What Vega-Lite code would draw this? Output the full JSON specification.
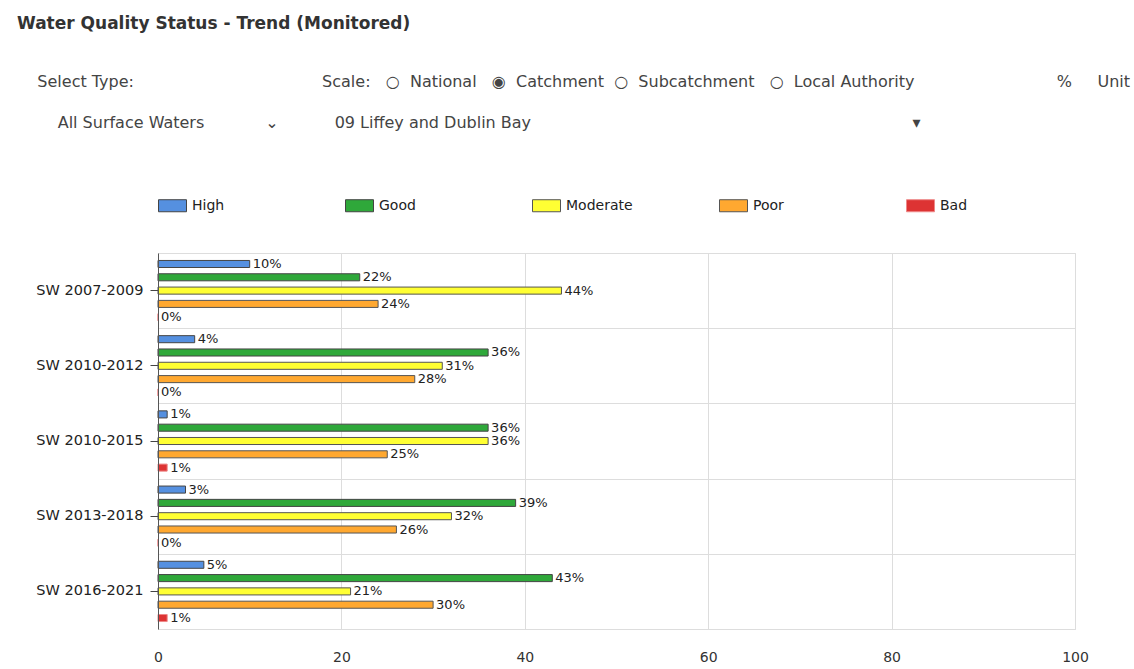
{
  "$schema": "https://vega.github.io/schema/vega-lite/v6.json",
  "autosize": {"type": "none"},
  "width": 917,
  "height": 376,
  "padding": {"left": 158, "top": 253, "right": 59, "bottom": 40},
  "background": "white",
  "title": {
    "text": "Water Quality Status - Trend (Monitored)",
    "subtitle": [
      "\u200b\u00a0\u00a0\u00a0\u00a0Select Type:\u00a0\u00a0\u00a0\u00a0\u00a0\u00a0\u00a0\u00a0\u00a0\u00a0\u00a0\u00a0\u00a0\u00a0\u00a0\u00a0\u00a0\u00a0\u00a0\u00a0\u00a0\u00a0\u00a0\u00a0\u00a0\u00a0\u00a0\u00a0\u00a0\u00a0\u00a0\u00a0\u00a0\u00a0\u00a0\u00a0\u00a0Scale:\u00a0\u00a0\u00a0○\u00a0\u00a0National\u00a0\u00a0\u00a0◉\u00a0\u00a0Catchment\u00a0\u00a0○\u00a0\u00a0Subcatchment\u00a0\u00a0\u00a0○\u00a0\u00a0Local Authority\u00a0\u00a0\u00a0\u00a0\u00a0\u00a0\u00a0\u00a0\u00a0\u00a0\u00a0\u00a0\u00a0\u00a0\u00a0\u00a0\u00a0\u00a0\u00a0\u00a0\u00a0\u00a0\u00a0\u00a0\u00a0\u00a0\u00a0\u00a0%\u00a0\u00a0\u00a0\u00a0\u00a0Unit",
      "\u200b\u00a0\u00a0\u00a0\u00a0\u00a0\u00a0\u00a0\u00a0All Surface Waters\u00a0\u00a0\u00a0\u00a0\u00a0\u00a0\u00a0\u00a0\u00a0\u00a0\u00a0\u00a0⌄\u00a0\u00a0\u00a0\u00a0\u00a0\u00a0\u00a0\u00a0\u00a0\u00a0\u00a009 Liffey and Dublin Bay\u00a0\u00a0\u00a0\u00a0\u00a0\u00a0\u00a0\u00a0\u00a0\u00a0\u00a0\u00a0\u00a0\u00a0\u00a0\u00a0\u00a0\u00a0\u00a0\u00a0\u00a0\u00a0\u00a0\u00a0\u00a0\u00a0\u00a0\u00a0\u00a0\u00a0\u00a0\u00a0\u00a0\u00a0\u00a0\u00a0\u00a0\u00a0\u00a0\u00a0\u00a0\u00a0\u00a0\u00a0\u00a0\u00a0\u00a0\u00a0\u00a0\u00a0\u00a0\u00a0\u00a0\u00a0\u00a0\u00a0\u00a0\u00a0\u00a0\u00a0\u00a0\u00a0\u00a0\u00a0\u00a0\u00a0\u00a0\u00a0\u00a0\u00a0\u00a0\u00a0\u00a0\u00a0\u00a0▾"
    ],
    "anchor": "start",
    "frame": "group",
    "dx": -141,
    "offset": 59,
    "font": "DejaVu Sans",
    "fontSize": 17,
    "fontWeight": "bold",
    "color": "#333333",
    "subtitleFont": "DejaVu Sans",
    "subtitleFontSize": 16,
    "subtitleColor": "#444444",
    "subtitleLineHeight": 41,
    "subtitlePadding": 41
  },
  "data": {
    "values": [
      {"period": "SW 2007-2009", "status": "High", "pct": 10},
      {"period": "SW 2007-2009", "status": "Good", "pct": 22},
      {"period": "SW 2007-2009", "status": "Moderate", "pct": 44},
      {"period": "SW 2007-2009", "status": "Poor", "pct": 24},
      {"period": "SW 2007-2009", "status": "Bad", "pct": 0},
      {"period": "SW 2010-2012", "status": "High", "pct": 4},
      {"period": "SW 2010-2012", "status": "Good", "pct": 36},
      {"period": "SW 2010-2012", "status": "Moderate", "pct": 31},
      {"period": "SW 2010-2012", "status": "Poor", "pct": 28},
      {"period": "SW 2010-2012", "status": "Bad", "pct": 0},
      {"period": "SW 2010-2015", "status": "High", "pct": 1},
      {"period": "SW 2010-2015", "status": "Good", "pct": 36},
      {"period": "SW 2010-2015", "status": "Moderate", "pct": 36},
      {"period": "SW 2010-2015", "status": "Poor", "pct": 25},
      {"period": "SW 2010-2015", "status": "Bad", "pct": 1},
      {"period": "SW 2013-2018", "status": "High", "pct": 3},
      {"period": "SW 2013-2018", "status": "Good", "pct": 39},
      {"period": "SW 2013-2018", "status": "Moderate", "pct": 32},
      {"period": "SW 2013-2018", "status": "Poor", "pct": 26},
      {"period": "SW 2013-2018", "status": "Bad", "pct": 0},
      {"period": "SW 2016-2021", "status": "High", "pct": 5},
      {"period": "SW 2016-2021", "status": "Good", "pct": 43},
      {"period": "SW 2016-2021", "status": "Moderate", "pct": 21},
      {"period": "SW 2016-2021", "status": "Poor", "pct": 30},
      {"period": "SW 2016-2021", "status": "Bad", "pct": 1}
    ]
  },
  "encoding": {
    "y": {"field": "period", "type": "nominal", "sort": null,
          "scale": {"paddingInner": 0, "paddingOuter": 0}},
    "yOffset": {"field": "status", "type": "nominal",
                "sort": ["High", "Good", "Moderate", "Poor", "Bad"],
                "scale": {"paddingInner": 0.47, "paddingOuter": 0.56}},
    "x": {"field": "pct", "type": "quantitative",
          "scale": {"domain": [0, 100], "nice": false},
          "axis": {"title": null, "values": [0, 20, 40, 60, 80, 100], "grid": true,
                   "gridColor": "#dddddd", "ticks": false, "tickSize": 0, "domain": false,
                   "labelFlush": false, "labelPadding": 21, "labelFont": "DejaVu Sans",
                   "labelFontSize": 14, "labelColor": "#333333"}}
  },
  "layer": [
    {
      "mark": {"type": "bar", "strokeWidth": 1},
      "encoding": {
        "y": {"field": "period", "type": "nominal", "sort": null,
              "axis": {"title": null, "labels": false, "ticks": false, "grid": true,
                       "tickBand": "extent", "gridColor": "#dddddd", "domain": true,
                       "domainColor": "#555555", "orient": "left", "zindex": 1}},
        "fill": {"field": "status", "type": "nominal",
                 "scale": {"domain": ["High", "Good", "Moderate", "Poor", "Bad"],
                           "range": ["#5590e0", "#2fa83a", "#ffff33", "#ffa830", "#dd3333"]},
                 "legend": {"title": null}},
        "stroke": {"field": "status", "type": "nominal",
                   "scale": {"domain": ["High", "Good", "Moderate", "Poor", "Bad"],
                             "range": ["#444444", "#444444", "#555555", "#555555", "#ee8888"]},
                   "legend": {"title": null}}
      }
    },
    {
      "transform": [{"calculate": "datum.pct + '%'", "as": "label"}],
      "mark": {"type": "text", "align": "left", "baseline": "middle", "dx": 3,
               "font": "DejaVu Sans", "fontSize": 13, "color": "#222222"},
      "encoding": {
        "y": {"field": "period", "type": "nominal", "sort": null,
              "axis": {"title": null, "orient": "left", "grid": false, "domain": false,
                       "ticks": true, "tickSize": 8, "tickColor": "#444444",
                       "labelPadding": 7, "labelFont": "DejaVu Sans", "labelFontSize": 14.5,
                       "labelColor": "#222222"}},
        "text": {"field": "label"}
      }
    }
  ],
  "resolve": {"axis": {"y": "independent"}},
  "config": {
    "view": {"stroke": "#dddddd"},
    "legend": {
      "orient": "top",
      "direction": "horizontal",
      "columns": 5,
      "gridAlign": "all",
      "columnPadding": 84,
      "offset": 39,
      "padding": 0,
      "symbolType": "M-1,-0.43H1V0.43H-1Z",
      "symbolSize": 784,
      "symbolStrokeWidth": 1,
      "labelOffset": 5,
      "labelFont": "DejaVu Sans",
      "labelFontSize": 14,
      "labelColor": "#222222"
    }
  }
}
